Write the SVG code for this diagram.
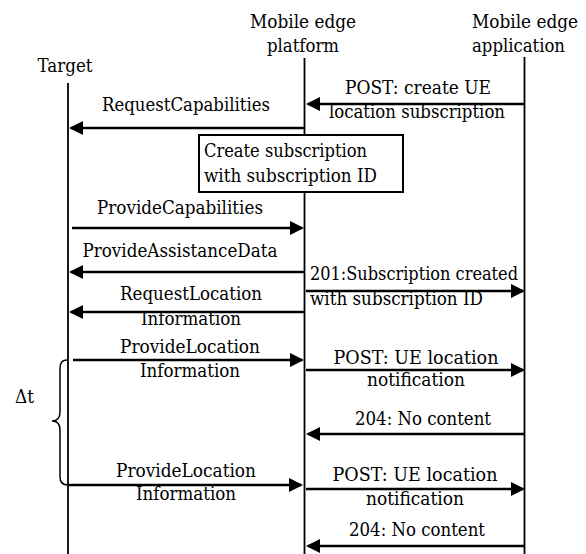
<svg xmlns="http://www.w3.org/2000/svg" width="586" height="554" viewBox="0 0 586 554">
<style>
text { font-family: "DejaVu Serif", serif; font-size: 18px; fill: #000; }
.m { text-anchor: middle; }
.life { stroke: #000; stroke-width: 1.8; fill: none; }
.msg { stroke: #000; stroke-width: 2.6; fill: none; marker-end: url(#ah); }
.box { fill: #fff; stroke: #000; stroke-width: 2; }
</style>
<defs>
<marker id="ah" markerUnits="userSpaceOnUse" markerWidth="14" markerHeight="14" refX="12" refY="7" orient="auto">
<path d="M0,0 L14,7 L0,14 z" fill="#000"/>
</marker>
</defs>
<rect width="586" height="554" fill="#fff"/>
<g id="target">
<text x="65" y="72" class="m" textLength="55" lengthAdjust="spacingAndGlyphs">Target</text>
<line class="life" x1="68" y1="83" x2="68" y2="554"/>
</g>
<g id="platform">
<text x="303" y="28" class="m" textLength="106" lengthAdjust="spacingAndGlyphs">Mobile edge</text>
<text x="303" y="52" class="m" textLength="72" lengthAdjust="spacingAndGlyphs">platform</text>
<line class="life" x1="304.5" y1="58" x2="304.5" y2="554"/>
</g>
<g id="application">
<text x="472" y="28" textLength="106" lengthAdjust="spacingAndGlyphs">Mobile edge</text>
<text x="472" y="52" textLength="93" lengthAdjust="spacingAndGlyphs">application</text>
<line class="life" x1="524.5" y1="57" x2="524.5" y2="554"/>
</g>
<g id="create-box">
<rect class="box" x="199" y="135" width="204" height="57"/>
<text x="204" y="157" textLength="163" lengthAdjust="spacingAndGlyphs">Create subscription</text>
<text x="204" y="182" textLength="173" lengthAdjust="spacingAndGlyphs">with subscription ID</text>
</g>
<g id="connectors">
<line class="msg" x1="524" y1="104" x2="308" y2="104"/>
<text x="418" y="94" class="m" textLength="146" lengthAdjust="spacingAndGlyphs">POST: create UE</text>
<text x="417" y="118" class="m" textLength="176" lengthAdjust="spacingAndGlyphs">location subscription</text>

<line class="msg" x1="304" y1="128" x2="71" y2="128"/>
<text x="186" y="111" class="m" textLength="168" lengthAdjust="spacingAndGlyphs">RequestCapabilities</text>

<line class="msg" x1="72" y1="228" x2="302" y2="228"/>
<text x="180" y="214" class="m" textLength="166" lengthAdjust="spacingAndGlyphs">ProvideCapabilities</text>

<line class="msg" x1="304" y1="272" x2="71" y2="272"/>
<text x="180" y="257" class="m" textLength="195" lengthAdjust="spacingAndGlyphs">ProvideAssistanceData</text>

<line class="msg" x1="306" y1="291" x2="523" y2="291"/>
<text x="310" y="280" textLength="208" lengthAdjust="spacingAndGlyphs">201:Subscription created</text>
<text x="310" y="305" textLength="173" lengthAdjust="spacingAndGlyphs">with subscription ID</text>

<line class="msg" x1="304" y1="312" x2="71" y2="312"/>
<text x="191" y="300" class="m" textLength="142" lengthAdjust="spacingAndGlyphs">RequestLocation</text>
<text x="191" y="325" class="m" textLength="100" lengthAdjust="spacingAndGlyphs">Information</text>

<line class="msg" x1="73" y1="360" x2="302" y2="360"/>
<text x="190" y="353" class="m" textLength="140" lengthAdjust="spacingAndGlyphs">ProvideLocation</text>
<text x="190" y="377" class="m" textLength="100" lengthAdjust="spacingAndGlyphs">Information</text>

<line class="msg" x1="306" y1="370" x2="523" y2="370"/>
<text x="416" y="364" class="m" textLength="165" lengthAdjust="spacingAndGlyphs">POST: UE location</text>
<text x="416" y="386" class="m" textLength="98" lengthAdjust="spacingAndGlyphs">notification</text>

<line class="msg" x1="524" y1="434" x2="308" y2="434"/>
<text x="423" y="425" class="m" textLength="136" lengthAdjust="spacingAndGlyphs">204: No content</text>

<line class="msg" x1="69" y1="485" x2="301" y2="485"/>
<text x="186" y="477" class="m" textLength="140" lengthAdjust="spacingAndGlyphs">ProvideLocation</text>
<text x="186" y="500" class="m" textLength="100" lengthAdjust="spacingAndGlyphs">Information</text>

<line class="msg" x1="306" y1="489" x2="523" y2="489"/>
<text x="415" y="481" class="m" textLength="165" lengthAdjust="spacingAndGlyphs">POST: UE location</text>
<text x="415" y="505" class="m" textLength="98" lengthAdjust="spacingAndGlyphs">notification</text>

<line class="msg" x1="524" y1="546" x2="308" y2="546"/>
<text x="417" y="536" class="m" textLength="136" lengthAdjust="spacingAndGlyphs">204: No content</text>
</g>
<g id="delta-t">
<path d="M67,360 Q60,360 60,368 L60,412 Q60,421 52,421 Q60,421 60,430 L60,477 Q60,485 68,485" fill="none" stroke="#000" stroke-width="1.5"/>
<text x="15" y="403" textLength="19" lengthAdjust="spacingAndGlyphs">Δt</text>
</g>
</svg>
